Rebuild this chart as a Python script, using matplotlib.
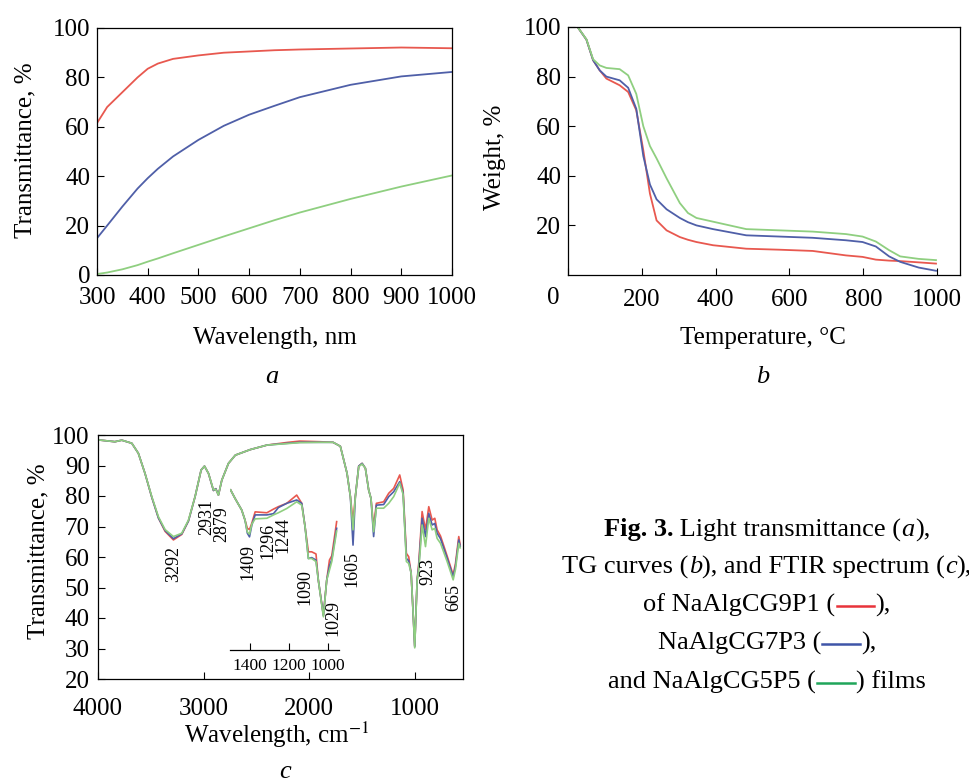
import matplotlib
matplotlib.use("Agg")
import matplotlib.pyplot as plt
from matplotlib.offsetbox import TextArea, HPacker, DrawingArea, AnnotationBbox
from matplotlib.lines import Line2D

plt.rcParams['font.family'] = ['Liberation Serif', 'DejaVu Serif']
plt.rcParams['mathtext.fontset'] = 'stix'

RED = '#e8584f'
BLUE = '#4f5fa8'
GREEN = '#8fcf80'

# ---------------- panel a: light transmittance ----------------
wl = [300, 320, 350, 380, 400, 420, 450, 500, 550, 600, 650, 700, 800, 900, 1000]
trans_red = [61.5, 68, 74, 80, 83.5, 85.6, 87.5, 88.9, 90, 90.5, 91, 91.3, 91.7, 92.1, 91.8]
trans_blue = [14.9, 20, 27.7, 35, 39.2, 43, 48, 54.7, 60.4, 64.9, 68.5, 72, 77, 80.4, 82.2]
trans_green = [0.4, 1, 2.3, 4, 5.4, 6.7, 8.8, 12.2, 15.6, 18.9, 22.2, 25.3, 30.8, 35.8, 40.3]

# ---------------- panel b: TG curves ----------------
temp = [26, 50, 68, 86, 104, 140, 163, 185, 204, 222, 240, 267, 303, 325, 348, 393,
        483, 573, 663, 753, 798, 834, 870, 900, 950, 997]
tg_red = [100, 94.9, 86.6, 82.5, 79.2, 76.5, 73.8, 66.4, 50.3, 32.8, 22, 18, 15.3, 14.2,
          13.3, 12, 10.6, 10.2, 9.7, 7.9, 7.3, 6.2, 5.8, 5.6, 5.1, 4.6]
tg_blue = [100, 94.9, 86.6, 82.5, 80, 78.5, 75.5, 67, 48, 36.5, 30.5, 26.5, 23, 21.3,
           20, 18.5, 16, 15.5, 15, 14, 13.3, 11.5, 7.5, 5.3, 3, 1.7]
tg_green = [100, 95, 87, 84.5, 83.5, 83, 80.5, 73, 60, 52, 47, 39, 29, 25, 23, 21.5,
            18.5, 18, 17.5, 16.5, 15.5, 13.5, 10, 7.5, 6.5, 6]

# ---------------- panel c: FTIR ----------------
wn = [4000, 3840, 3775, 3680, 3618, 3555, 3491, 3428, 3365, 3286, 3207, 3144, 3081,
      3024, 2992, 2954, 2907, 2885, 2860, 2828, 2765, 2700, 2560, 2400, 2200, 2090,
      1900, 1775, 1706, 1643, 1611, 1586, 1564, 1532, 1500, 1469, 1438, 1416, 1391,
      1365, 1296, 1248, 1201, 1144, 1112, 1081, 1059, 1036, 1017, 1002, 979, 964,
      932, 900, 869, 837, 812, 790, 758, 695, 638, 616, 585, 572]
ir_red = [98.4, 97.8, 98.3, 97.3, 94, 87.4, 79.6, 72.8, 68.4, 65.6, 67.4, 71.8, 79.8,
          88.5, 89.8, 87.4, 81.8, 82.4, 80.3, 85.2, 90.7, 93.4, 95.2, 96.7, 97.6, 98.0,
          97.8, 97.6, 96.3, 87.5, 79.8, 71.6, 79.8, 89.8, 90.7, 89.1, 82, 79.2, 69.9,
          77.6, 78.1, 80.9, 82.5, 86.9, 82, 61.2, 60.1, 54.7, 41.5, 30.8, 52.5, 57.9,
          74.9, 68.9, 76.5, 72.1, 72.7, 68.9, 66.9, 60.3, 54.1, 57.9, 66.7, 64]
ir_blue = [98.4, 97.8, 98.3, 97.3, 94, 87.4, 79.6, 72.8, 68.7, 66.0, 67.6, 71.8, 79.8,
           88.5, 89.8, 87.4, 81.8, 82.4, 80.3, 85.2, 90.7, 93.4, 95.2, 96.7, 97.3, 97.6,
           97.6, 97.6, 96.3, 87.5, 79.8, 63.9, 79.8, 89.8, 90.7, 89.1, 82, 79.2, 66.7,
           77, 77.2, 79.8, 81.4, 84.7, 81, 59.5, 58.8, 54.7, 41.5, 30.6, 52.5, 56.8,
           72.7, 66.7, 74.3, 70.5, 71, 67.8, 66, 59.6, 53.5, 57, 65.6, 63.5]
ir_green = [98.4, 97.8, 98.3, 97.3, 94, 87.4, 79.8, 73.2, 69, 66.7, 67.8, 72.1, 79.8,
            88.5, 89.8, 87.4, 82, 82.2, 80.3, 85.2, 90.7, 93.4, 95.2, 96.7, 97.2, 97.5,
            97.6, 97.6, 96.3, 87.5, 79.8, 68.9, 79.8, 89.6, 90.5, 89.1, 82, 79.2, 68.3,
            76, 76, 77.6, 79.8, 84.2, 80.5, 58.5, 57.9, 54.7, 41.5, 30.2, 52.5, 55.7,
            70.5, 63.4, 72.7, 68.9, 69.4, 66.1, 64.5, 58.5, 52.5, 56, 64.5, 63]

# inset (expanded 1500-950 cm-1 region)
inset_wn = [1500, 1477, 1443, 1426, 1414, 1403, 1391, 1374, 1314, 1280, 1255, 1212,
            1161, 1135, 1118, 1101, 1084, 1062, 1050, 1024, 1007, 993, 981, 956]
inset_red = [82, 79.2, 75.4, 72.1, 69.4, 69.0, 71.1, 74.8, 74.5, 75.7, 76.5, 77.6,
             80.3, 77.6, 69.9, 61.7, 61.7, 61, 52.4, 41, 52.4, 59, 60.4, 71.6]
inset_blue = [82, 79.2, 75.4, 72.1, 67.8, 66.6, 70.5, 73.8, 73.8, 74.2, 76.2, 77.6,
              78.7, 77.6, 69.9, 59.5, 59.8, 59, 52.4, 40.8, 52.4, 57, 59.2, 69.4]
inset_green = [82, 79.2, 75.4, 72.1, 68.2, 67.5, 70.8, 72.5, 72.7, 73.8, 74.5, 75.9,
               78.1, 77, 69.9, 59.5, 59.5, 58.5, 52.4, 40.4, 52.4, 55.7, 58.5, 68.5]

peak_labels = ['3292', '2931', '2879', '1409', '1296', '1244', '1090', '1029',
               '1605', '923', '665']
# label anchor positions in main-panel data coordinates
peak_x = [3280, 2968, 2826, 2578, 2389, 2246, 2038, 1773, 1592, 881, 635]
peak_y = [57.7, 73.1, 70.8, 58.4, 65.2, 67.2, 50.2, 40.0, 56.0, 55.4, 46.6]

fig = plt.figure(figsize=(9.7, 7.83), dpi=100)
W, H = 970.0, 783.0


def style_axes(ax, xpad, ypad):
    ax.tick_params(direction='in', length=5, width=0.8, labelsize=18,
                   top=False, right=False)
    ax.tick_params(axis='x', pad=xpad)
    ax.tick_params(axis='y', pad=ypad)
    for s in ax.spines.values():
        s.set_linewidth(0.9)


# panel a
ax_a = fig.add_axes([97 / W, 1 - 275 / H, 355 / W, 247 / H])
ax_a.plot(wl, trans_red, color=RED, lw=1.3)
ax_a.plot(wl, trans_blue, color=BLUE, lw=1.3)
ax_a.plot(wl, trans_green, color=GREEN, lw=1.3)
ax_a.set_xlim(300, 1000)
ax_a.set_ylim(0, 100)
ax_a.set_xticks(range(300, 1001, 100))
ax_a.set_yticks(range(0, 101, 20))
style_axes(ax_a, 9, 5)

# panel b
ax_b = fig.add_axes([568 / W, 1 - 275 / H, 392 / W, 248 / H])
ax_b.plot(temp, tg_red, color=RED, lw=1.3)
ax_b.plot(temp, tg_blue, color=BLUE, lw=1.3)
ax_b.plot(temp, tg_green, color=GREEN, lw=1.3)
ax_b.set_xlim(0, 1062)
ax_b.set_ylim(0, 100)
ax_b.set_xticks(range(0, 1001, 200))
ax_b.set_xticklabels([''] + [str(v) for v in range(200, 1001, 200)])
ax_b.set_yticks(range(20, 101, 20))
style_axes(ax_b, 10, 5)
fig.text(553 / W, 1 - 298 / H, '0', fontsize=18, ha='center', va='center')

# panel c
ax_c = fig.add_axes([98 / W, 1 - 679 / H, 365 / W, 244 / H])
ax_c.plot(wn, ir_red, color=RED, lw=1.2)
ax_c.plot(wn, ir_blue, color=BLUE, lw=1.2)
ax_c.plot(wn, ir_green, color=GREEN, lw=1.2)
ax_c.set_xlim(4000, 545)
ax_c.set_ylim(20, 100)
ax_c.set_xticks([4000, 3000, 2000, 1000])
ax_c.set_yticks(range(20, 101, 10))
style_axes(ax_c, 14, 6)
for lab, x, y in zip(peak_labels, peak_x, peak_y):
    ax_c.text(x, y, lab, rotation=90, fontsize=13, ha='center', va='center')

# inset
ax_in = fig.add_axes([230 / W, 1 - 679 / H, 109 / W, 244 / H])
ax_in.patch.set_visible(False)
ax_in.plot(inset_wn, inset_red, color=RED, lw=1.2)
ax_in.plot(inset_wn, inset_blue, color=BLUE, lw=1.2)
ax_in.plot(inset_wn, inset_green, color=GREEN, lw=1.2)
ax_in.set_xlim(1503, 944)
ax_in.set_ylim(20, 100)
for side in ['top', 'right', 'left']:
    ax_in.spines[side].set_visible(False)
ax_in.spines['bottom'].set_position(('data', 29.5))
ax_in.spines['bottom'].set_linewidth(0.9)
ax_in.set_yticks([])
ax_in.set_xticks([1400, 1200, 1000])
ax_in.tick_params(axis='x', direction='in', length=5, width=0.8, labelsize=12.5, pad=6)

# axis labels and panel letters
fig.text(25 / W, 1 - 150 / H, 'Transmittance, %', rotation=90, fontsize=18,
         ha='center', va='center')
fig.text(275 / W, 1 - 338 / H, 'Wavelength, nm', fontsize=18, ha='center', va='center')
fig.text(272 / W, 1 - 377 / H, 'a', fontsize=19, style='italic', ha='center', va='center')
fig.text(495 / W, 1 - 157 / H, 'Weight, %', rotation=90, fontsize=18,
         ha='center', va='center')
fig.text(763 / W, 1 - 338 / H, 'Temperature, °C', fontsize=18, ha='center', va='center')
fig.text(763 / W, 1 - 377 / H, 'b', fontsize=19, style='italic', ha='center', va='center')
fig.text(38 / W, 1 - 551 / H, 'Transmittance, %', rotation=90, fontsize=18,
         ha='center', va='center')
fig.text(277 / W, 1 - 735 / H, 'Wavelength, cm$^{-1}$', fontsize=18, ha='center',
         va='center')
fig.text(285 / W, 1 - 772 / H, 'c', fontsize=19, style='italic', ha='center', va='center')

# caption
CAP = 19


def caption_line(parts, yc):
    boxes = []
    for p in parts:
        if p[0] == 'line':
            da = DrawingArea(29, 10, 0, 0)
            da.add_artist(Line2D([1, 28], [3.5, 3.5], color=p[1], lw=1.8))
            boxes.append(da)
        else:
            boxes.append(TextArea(p[1], textprops=dict(fontsize=CAP, **p[0])))
    pack = HPacker(children=boxes, align='baseline', pad=0, sep=0)
    ab = AnnotationBbox(pack, (767 / W, 1 - yc / H), xycoords='figure fraction',
                        frameon=False, box_alignment=(0.5, 0.5), pad=0)
    fig.add_artist(ab)


caption_line([({'weight': 'bold'}, 'Fig. 3.'), ({}, ' Light transmittance ('),
              ({'style': 'italic'}, 'a'), ({}, '),')], 530)
caption_line([({}, 'TG curves ('), ({'style': 'italic'}, 'b'),
              ({}, '), and FTIR spectrum ('), ({'style': 'italic'}, 'c'), ({}, '),')], 567)
caption_line([({}, 'of NaAlgCG9P1 ('), ('line', '#e8333a'), ({}, '),')], 605)
caption_line([({}, 'NaAlgCG7P3 ('), ('line', '#3f55a8'), ({}, '),')], 643)
caption_line([({}, 'and NaAlgCG5P5 ('), ('line', '#20a55a'), ({}, ') films')], 682)

fig.savefig('out.png', dpi=100)
